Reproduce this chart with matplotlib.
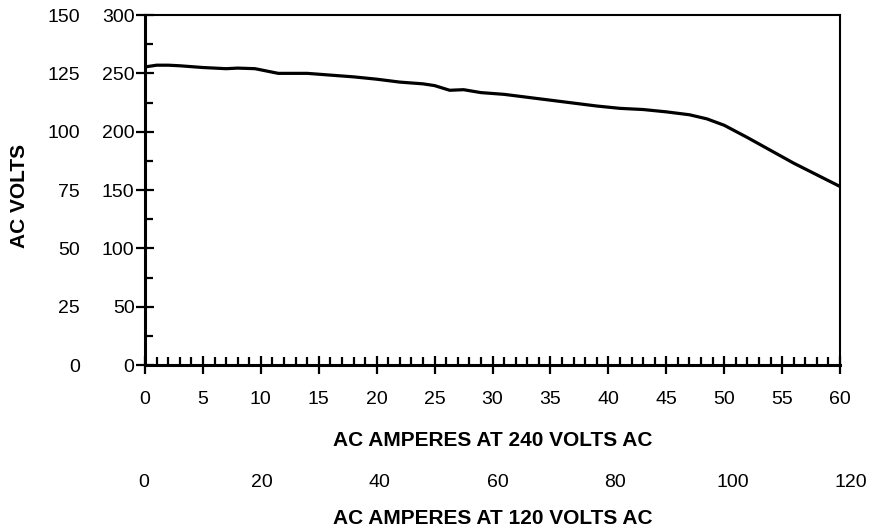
import matplotlib
matplotlib.use("Agg")
import matplotlib.pyplot as plt
from matplotlib.ticker import MultipleLocator

# load curve (x: AC amperes at 240 V, y: AC volts at 240 V)
amps_240 = [0, 1, 2, 3, 5, 7, 8, 9.5, 10.5, 11.5, 14, 16, 18, 20, 22, 24, 25,
            26.3, 27.5, 29, 31, 33, 35, 37, 39, 41, 43, 45, 47, 48.5, 50, 52,
            54, 56, 58, 60]
volts_240 = [255.5, 257, 257, 256.5, 255, 254, 254.5, 254, 252, 250, 250, 248.5,
             247, 245, 242.5, 241, 239.5, 235.5, 236, 233.5, 232, 229.5, 227,
             224.5, 222, 220, 219, 217, 214.5, 211, 205.5, 195, 184, 173, 163, 153]

xticks_240 = list(range(0, 61, 5))
yticks_240 = list(range(0, 301, 50))
xticks_120 = [0, 20, 40, 60, 80, 100, 120]
yticks_120 = [0, 25, 50, 75, 100, 125, 150]

plt.rcParams['font.family'] = ['Liberation Sans', 'DejaVu Sans']

fig = plt.figure(figsize=(8.69, 5.31), dpi=100)
ax = fig.add_axes([0.1669, 0.3126, 0.7998, 0.6591])

ax.plot(amps_240, volts_240, color='black', lw=2.3, solid_capstyle='round')
ax.set_xlim(0, 60)
ax.set_ylim(0, 300)

ax.set_xticks(xticks_240)
ax.set_yticks(yticks_240)
ax.xaxis.set_minor_locator(MultipleLocator(1))
ax.yaxis.set_minor_locator(MultipleLocator(25))
ax.tick_params(which='major', direction='inout', length=13, width=1.6,
               labelsize=14, color='black')
ax.tick_params(which='minor', direction='in', length=6, width=1.6)
ax.tick_params(axis='x', which='major', pad=12)
ax.tick_params(axis='y', which='major', pad=1)

for side in ['left', 'bottom']:
    ax.spines[side].set_linewidth(2.2)
for side in ['top', 'right']:
    ax.spines[side].set_linewidth(1.5)

# 120 V volts scale, text only
sy = ax.secondary_yaxis(-0.0855, functions=(lambda v: v / 2, lambda v: v * 2))
sy.set_yticks(yticks_120)
sy.tick_params(length=0, pad=4, labelsize=14)
sy.spines['left'].set_visible(False)

# 120 V amperes scale, set a touch wider than the plot in the original
ax120 = fig.add_axes([144 / 869, 1 - 470 / 531, 707 / 869, 0.001], frameon=False)
ax120.set_xlim(0, 120)
ax120.set_xticks(xticks_120)
ax120.set_yticks([])
ax120.tick_params(length=0, pad=3, labelsize=14)

fig.text(0.5667, 1 - 440 / 531, 'AC AMPERES AT 240 VOLTS AC', ha='center',
         va='center', fontsize=15, fontweight='bold')
fig.text(0.5667, 1 - 519 / 531, 'AC AMPERES AT 120 VOLTS AC', ha='center',
         va='center', fontsize=15, fontweight='bold')
fig.text(19.5 / 869, 1 - 196 / 531, 'AC VOLTS', ha='center', va='center',
         rotation=90, fontsize=15, fontweight='bold')

fig.savefig('out.png', dpi=100)
